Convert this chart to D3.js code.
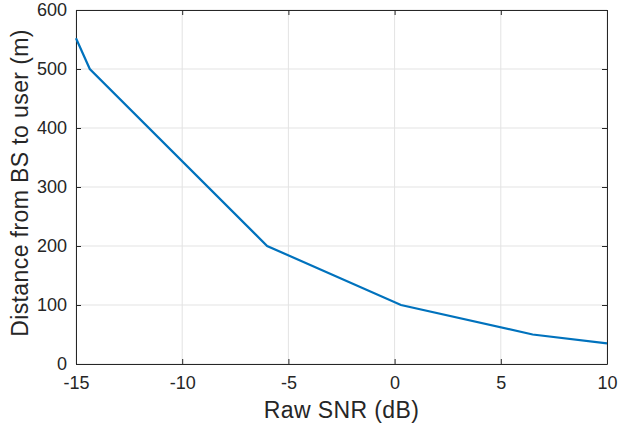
<!DOCTYPE html>
<html>
<head>
<meta charset="utf-8">
<script src="https://cdn.jsdelivr.net/npm/d3@7"></script>
<style>
  body { margin: 0; background: #fff; }
  text { font-family: "Liberation Sans", Arial, sans-serif; fill: #262626; }
</style>
</head>
<body>
<div id="chart"></div>
<script>
// data
const snr = [-15, -14.35, -6, 0.3, 6.5, 10];
const distance = [552, 500, 200, 100, 50, 35];
const xTicks = [-15, -10, -5, 0, 5, 10];
const yTicks = [0, 100, 200, 300, 400, 500, 600];

const lineColor = '#0072BD';

function drawChart() {
    const W = 619, H = 430;
    const margin = {top: 10, right: 12, bottom: 66, left: 76};
    const width = W - margin.left - margin.right;
    const height = H - margin.top - margin.bottom;

    const svg = d3.select("#chart")
        .append("svg")
        .attr("width", W)
        .attr("height", H)
        .append("g")
        .attr("transform", `translate(${margin.left}, ${margin.top})`);

    const x = d3.scaleLinear().domain([-15, 10]).range([0, width]);
    const y = d3.scaleLinear().domain([0, 600]).range([height, 0]);

    // grid
    svg.append("g")
        .selectAll("line")
        .data(xTicks)
        .enter()
        .append("line")
        .attr("x1", d => x(d)).attr("x2", d => x(d))
        .attr("y1", 0).attr("y2", height)
        .attr("stroke", "#e3e3e3");
    svg.append("g")
        .selectAll("line")
        .data(yTicks)
        .enter()
        .append("line")
        .attr("y1", d => y(d)).attr("y2", d => y(d))
        .attr("x1", 0).attr("x2", width)
        .attr("stroke", "#e3e3e3");

    // axes, ticks pointing inward like matlab
    const tickLen = 5;
    const bottom = svg.append("g")
        .attr("transform", `translate(0, ${height})`)
        .call(d3.axisBottom(x).tickValues(xTicks).tickSizeInner(-tickLen).tickSizeOuter(0).tickPadding(12));
    const top = svg.append("g")
        .call(d3.axisTop(x).tickValues(xTicks).tickSizeInner(-tickLen).tickSizeOuter(0).tickFormat(""));
    const left = svg.append("g")
        .call(d3.axisLeft(y).tickValues(yTicks).tickSizeInner(-tickLen).tickSizeOuter(0).tickPadding(9));
    const right = svg.append("g")
        .attr("transform", `translate(${width}, 0)`)
        .call(d3.axisRight(y).tickValues(yTicks).tickSizeInner(-tickLen).tickSizeOuter(0).tickFormat(""));

    [bottom, top, left, right].forEach(g => {
        g.select(".domain").attr("stroke", "#262626");
        g.selectAll(".tick line").attr("stroke", "#262626");
        g.selectAll("text")
            .style("font-family", '"Liberation Sans", Arial, sans-serif')
            .style("font-size", "18px")
            .attr("fill", "#262626");
    });
    bottom.selectAll(".tick text").text(d => d < 0 ? "-" + Math.abs(d) : d);

    // the line
    const line = d3.line()
        .x((d, i) => x(snr[i]))
        .y(d => y(d));
    svg.append("path")
        .datum(distance)
        .attr("d", line)
        .attr("fill", "none")
        .attr("stroke", lineColor)
        .attr("stroke-width", 2.2);

    // axis labels
    svg.append("text")
        .attr("x", width / 2)
        .attr("y", height + 54)
        .style("text-anchor", "middle")
        .style("font-size", "23px")
        .style("letter-spacing", "0.4px")
        .text("Raw SNR (dB)");
    svg.append("text")
        .attr("transform", `translate(-48, ${height / 2 - 4}) rotate(-90)`)
        .style("text-anchor", "middle")
        .style("font-size", "23px")
        .style("letter-spacing", "0.4px")
        .text("Distance from BS to user (m)");
}

drawChart();
</script>
</body>
</html>
